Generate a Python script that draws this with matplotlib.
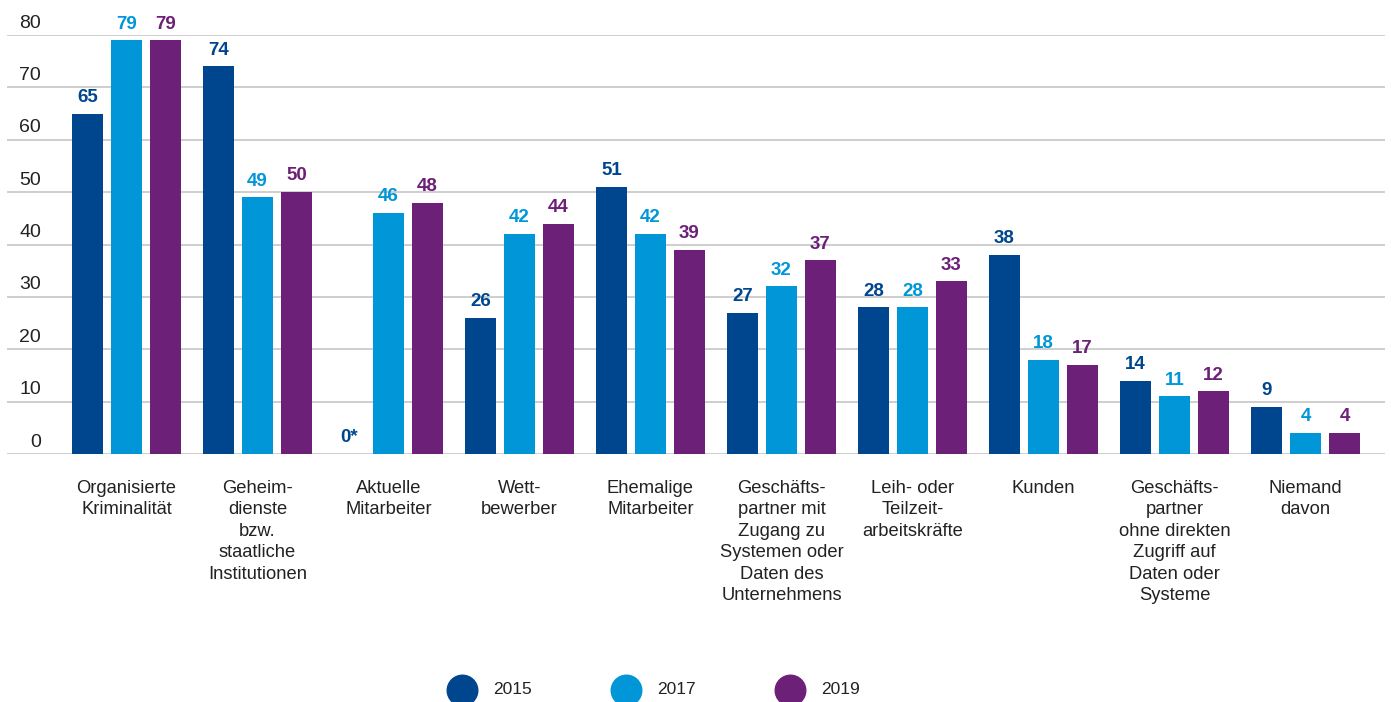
import matplotlib
matplotlib.use("Agg")
import matplotlib.pyplot as plt
from matplotlib.lines import Line2D
import numpy as np

plt.rcParams['font.family'] = ['Liberation Sans', 'DejaVu Sans']

categories = [
    "Organisierte\nKriminalität",
    "Geheim-\ndienste\nbzw.\nstaatliche\nInstitutionen",
    "Aktuelle\nMitarbeiter",
    "Wett-\nbewerber",
    "Ehemalige\nMitarbeiter",
    "Geschäfts-\npartner mit\nZugang zu\nSystemen oder\nDaten des\nUnternehmens",
    "Leih- oder\nTeilzeit-\narbeitskräfte",
    "Kunden",
    "Geschäfts-\npartner\nohne direkten\nZugriff auf\nDaten oder\nSysteme",
    "Niemand\ndavon",
]
years = ["2015", "2017", "2019"]
values_2015 = [65, 74, 0, 26, 51, 27, 28, 38, 14, 9]
values_2017 = [79, 49, 46, 42, 42, 32, 28, 18, 11, 4]
values_2019 = [79, 50, 48, 44, 39, 37, 33, 17, 12, 4]
# 2015 had no "Aktuelle Mitarbeiter" category; its label reads "0*"
labels_2015 = ["65", "74", "0*", "26", "51", "27", "28", "38", "14", "9"]
yticks = [0, 10, 20, 30, 40, 50, 60, 70, 80]

series = [values_2015, values_2017, values_2019]
series_labels = [labels_2015,
                 [str(v) for v in values_2017],
                 [str(v) for v in values_2019]]
colors = ["#00468E", "#0096D7", "#6D2077"]

W, H = 1391, 702
fig = plt.figure(figsize=(W / 100, H / 100), dpi=100)
ax = fig.add_axes([7 / W, (H - 454) / H, 1378 / W, 419 / H])

x = np.arange(len(categories))
bar_w = 31 / 131
step = 39 / 131

for k, (vals, labs, col) in enumerate(zip(series, series_labels, colors)):
    pos = x + (k - 1) * step
    ax.bar(pos, vals, width=bar_w, color=col, zorder=3)
    for p, v, lab in zip(pos, vals, labs):
        ax.annotate(lab, xy=(p, v), xytext=(0, 5.5), textcoords="offset points",
                    ha="center", va="bottom", fontsize=13.5, fontweight="bold",
                    color=col, annotation_clip=False)

for t in yticks:
    ax.axhline(t, color="#C6C6C6", lw=1.2, zorder=1)
    ax.annotate(str(t), xy=(0.0247, t), xycoords=("axes fraction", "data"),
                xytext=(0, 2.5), textcoords="offset points", ha="right",
                va="bottom", fontsize=14, color="#222222",
                annotation_clip=False)

for xi, cat in zip(x, categories):
    ax.annotate(cat, xy=(xi, 0), xytext=(0, -18.5), textcoords="offset points",
                ha="center", va="top", fontsize=13.2, color="#222222",
                linespacing=1.35, annotation_clip=False)

ax.set_xlim(-0.912, 9.607)
ax.set_ylim(0, 80)
ax.axis("off")

# Legend with round markers along the bottom edge
for i, (yr, col) in enumerate(zip(years, colors)):
    cx = 462 + i * 164
    fig.add_artist(Line2D([cx / W], [(H - 690) / H], marker="o", markersize=22,
                          color=col, linestyle="none",
                          transform=fig.transFigure))
    fig.text((cx + 31) / W, (H - 690) / H, yr, ha="left", va="center",
             fontsize=12.5, color="#222222")

fig.savefig("out.png", dpi=100, facecolor="white")
